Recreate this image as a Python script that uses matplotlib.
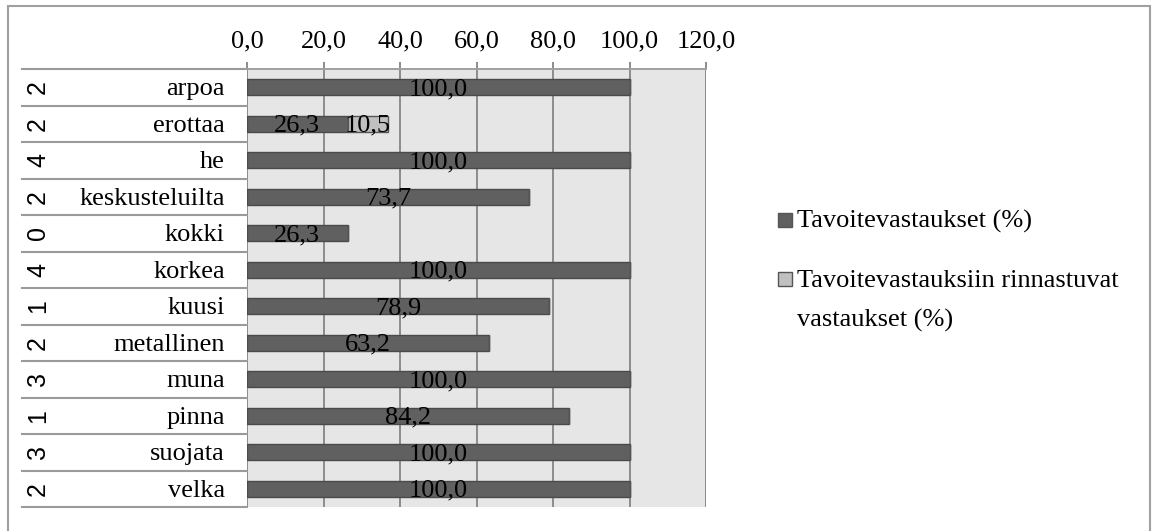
import matplotlib.pyplot as plt
from matplotlib.patches import Rectangle
from matplotlib.lines import Line2D

words = ['arpoa', 'erottaa', 'he', 'keskusteluilta', 'kokki', 'korkea',
         'kuusi', 'metallinen', 'muna', 'pinna', 'suojata', 'velka']
counts = [2, 2, 4, 2, 0, 4, 1, 2, 3, 1, 3, 2]
target = [100.0, 26.3, 100.0, 73.7, 26.3, 100.0, 78.9, 63.2, 100.0, 84.2, 100.0, 100.0]
parallel = [0, 10.5, 0, 0, 0, 0, 0, 0, 0, 0, 0, 0]
series_names = ['Tavoitevastaukset (%)', 'Tavoitevastauksiin rinnastuvat\nvastaukset (%)']
xticks = [0, 20, 40, 60, 80, 100, 120]

serif = 'Liberation Serif'
sans = 'Liberation Sans'
dark, light = '#606060', '#c0c0c0'
grey = '#8c8c8c'
fs = 19

W, H = 1152, 531
fig = plt.figure(figsize=(W / 100, H / 100), dpi=100)

# outer chart frame
fig.patches.append(Rectangle((8 / W, -0.1), (1150 - 8) / W, 1.1 - 6 / H,
                             transform=fig.transFigure, fill=False,
                             edgecolor='#a0a0a0', linewidth=1.5))

ax = fig.add_axes([247 / W, 1 - 507 / H, 459 / W, 438 / H])
ax.set_facecolor('#e6e6e6')

y = list(range(len(words)))
ax.barh(y, target, height=0.45, color=dark, edgecolor='#4a4a4a', linewidth=1, zorder=3)
ax.barh(y, parallel, left=target, height=0.45, color=light, edgecolor='#555555',
        linewidth=1, zorder=3)

for i in y:
    if target[i] > 0:
        ax.text(target[i] / 2, i + 0.05, f'{target[i]:.1f}'.replace('.', ','), ha='center',
                va='center', fontsize=fs, family=serif, zorder=4)
    if parallel[i] > 0:
        ax.text(target[i] + parallel[i] / 2, i + 0.05, f'{parallel[i]:.1f}'.replace('.', ','),
                ha='center', va='center', fontsize=fs, family=serif, zorder=4)

ax.set_xlim(0, 120)
ax.set_ylim(len(words) - 0.5, -0.5)
ax.set_xticks(xticks)
ax.set_xticklabels([f'{t:.1f}'.replace('.', ',') for t in xticks], family=serif, fontsize=fs)
ax.xaxis.tick_top()
ax.tick_params(axis='x', length=5, width=1.4, color=grey, pad=7)
ax.set_yticks([])
ax.grid(axis='x', color=grey, linewidth=1.4, zorder=1)
for s in ['left', 'right', 'bottom']:
    ax.spines[s].set_visible(False)
ax.spines['top'].set_color('#a0a0a0')
ax.spines['top'].set_linewidth(1.4)

# category table on the left
tr = ax.get_yaxis_transform()
left = (22 - 247) / 459
for b in range(len(words) + 1):
    ax.add_line(Line2D([left, 0], [b - 0.5, b - 0.5], transform=tr, color='#9a9a9a',
                       linewidth=1.5, clip_on=False))
for i, (w, c) in enumerate(zip(words, counts)):
    ax.text((225 - 247) / 459, i + 0.06, w, transform=tr, ha='right', va='center',
            fontsize=fs, family=serif)
    ax.text((38 - 247) / 459, i, str(c), transform=tr, ha='center', va='center',
            fontsize=18, family=sans, rotation=90)

# legend: square marker next to the first line of each entry
sq = 14
for (name, col, base) in [(series_names[0], dark, 228), (series_names[1], light, 287)]:
    fig.patches.append(Rectangle((778 / W, 1 - (base - 1) / H), sq / W, sq / H,
                                 transform=fig.transFigure, facecolor=col,
                                 edgecolor='#555555', linewidth=1))
    for k, line in enumerate(name.split('\n')):
        fig.text(797 / W, 1 - (base + 40 * k) / H, line, ha='left', va='baseline',
                 fontsize=fs, family=serif)

fig.savefig('out.png', dpi=100)
